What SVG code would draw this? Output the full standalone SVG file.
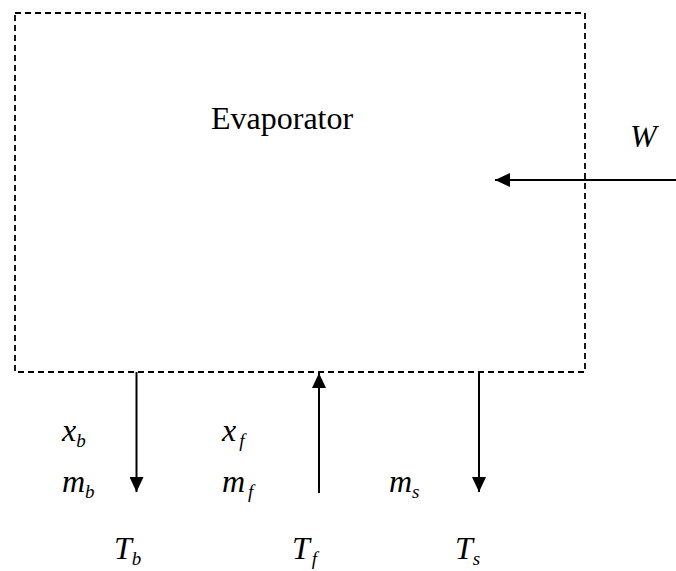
<svg xmlns="http://www.w3.org/2000/svg" width="676" height="571" viewBox="0 0 676 571">
<defs>
<marker id="ah" viewBox="0 0 15 14" refX="15" refY="7" markerWidth="15" markerHeight="14" markerUnits="userSpaceOnUse" orient="auto">
<path d="M0,0 L15,7 L0,14 Z" fill="#000"/>
</marker>
<style>
text{font-family:"Liberation Serif","Times New Roman",serif;fill:#000}
.lab{font-style:italic;font-size:32px}
.sub{font-size:19px}
.c{stroke:#000;stroke-width:2;fill:none}
</style>
</defs>
<g id="evaporator">
<rect x="15" y="13" width="570" height="359" fill="none" stroke="#000" stroke-width="1.8" stroke-dasharray="6,4"/>
<text x="211" y="129" font-size="32">Evaporator</text>
</g>
<g id="connectors">
<line class="c" x1="676" y1="180" x2="495" y2="180" marker-end="url(#ah)"/>
<line class="c" x1="136.5" y1="372" x2="136.5" y2="492" marker-end="url(#ah)"/>
<line class="c" x1="319" y1="493" x2="319" y2="373" marker-end="url(#ah)"/>
<line class="c" x1="479" y1="372" x2="479" y2="492" marker-end="url(#ah)"/>
</g>
<g id="labels">
<text class="lab" x="630" y="147">W</text>
<text class="lab" x="62" y="441">x<tspan class="sub" dy="6">b</tspan></text>
<text class="lab" x="62" y="492">m<tspan class="sub" dy="6">b</tspan></text>
<text class="lab" x="222" y="441">x<tspan class="sub" dx="3" dy="6">f</tspan></text>
<text class="lab" x="222" y="492">m<tspan class="sub" dx="3" dy="6">f</tspan></text>
<text class="lab" x="389" y="492">m<tspan class="sub" dy="6">s</tspan></text>
<text class="lab" x="114" y="559">T<tspan class="sub" dy="6">b</tspan></text>
<text class="lab" x="292" y="559">T<tspan class="sub" dx="2" dy="6">f</tspan></text>
<text class="lab" x="455" y="559">T<tspan class="sub" dy="6">s</tspan></text>
</g>
</svg>
